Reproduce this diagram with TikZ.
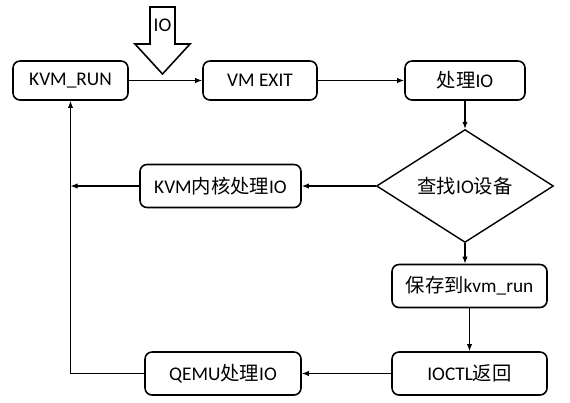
\documentclass[tikz,border=0pt]{standalone}
\usepackage{fontspec}
\setmainfont{Carlito}
\newfontfamily\cjk{Noto Sans CJK SC}
\usetikzlibrary{arrows.meta,shapes.geometric}

\tikzset{
  stepbox/.style={draw, rounded corners=4pt, line width=0.9pt, minimum height=0.86cm, inner sep=2pt, font=\fontsize{11}{13}\selectfont},
  decide/.style={draw, diamond, line width=0.8pt, minimum width=3.54cm, minimum height=1.4cm, inner sep=0pt, font=\fontsize{11}{13}\selectfont},
  flow/.style={-{Latex[length=4pt,width=3pt]}, line width=0.6pt}
}

\begin{document}
\begin{tikzpicture}

\useasboundingbox (0,0) rectangle (11.4,8.04);

% Top row
\node[stepbox, minimum width=2.3cm, minimum height=0.78cm] (run) at (1.41,6.43) {KVM\_RUN};
\node[stepbox, minimum width=2.28cm, minimum height=0.78cm] (exit) at (5.2,6.43) {VM EXIT};
\node[stepbox, minimum width=2.4cm, minimum height=0.78cm] (handle) at (9.3,6.43) {{\cjk 处理}IO};

% Middle row
\node[decide] (find) at (9.3,4.32) {{\cjk 查找}IO{\cjk 设备}};
\node[stepbox, minimum width=3.22cm] (kernel) at (4.41,4.32) {KVM{\cjk 内核处理}IO};

% Bottom rows
\node[stepbox, minimum width=3.1cm] (save) at (9.39,2.32) {{\cjk 保存到}kvm\_run};
\node[stepbox, minimum width=3.1cm] (ioctl) at (9.39,0.57) {IOCTL{\cjk 返回}};
\node[stepbox, minimum width=3.12cm] (qemu) at (4.46,0.57) {QEMU{\cjk 处理}IO};

\coordinate (left) at (1.41,0.57);

% Incoming IO
\draw[line width=0.9pt, fill=white] (3.0,7.9) -- (3.5,7.9) -- (3.5,7.16) -- (3.8,7.16)
  -- (3.25,6.56) -- (2.7,7.16) -- (3.0,7.16) -- cycle;
\node[font=\fontsize{11}{13}\selectfont] (io) at (3.25,7.54) {IO};

% Connectors
\draw[flow] (run) -- (exit);
\draw[flow] (exit) -- (handle);
\draw[flow] (handle) -- (find);
\draw[flow] (find) -- (kernel);
\draw[flow] (kernel) -- (kernel -| left);
\draw[flow] (find.south) -- (find.south |- save.north);
\draw[flow] (save) -- (ioctl);
\draw[flow] (ioctl) -- (qemu);
\draw[flow] (qemu) -| (run);

\end{tikzpicture}
\end{document}
